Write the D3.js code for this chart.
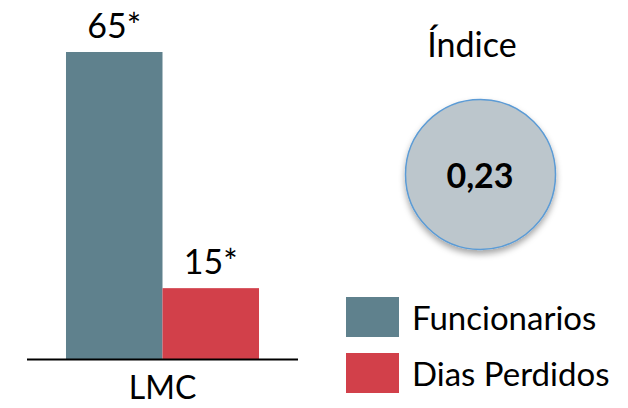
<!DOCTYPE html>
<html>
<head>
<meta charset="utf-8">
<script src="https://cdn.jsdelivr.net/npm/d3@7"></script>
<style>
  body { margin: 0; background: #fff; }
  svg text { font-family: Lato, "Open Sans", sans-serif; fill: #000; }
</style>
</head>
<body>
<div id="chart"></div>
<script>
  var categories = ["LMC"];
  var series = ["Funcionarios", "Dias Perdidos"];
  var values = [65, 15];
  var valueLabels = ["65*", "15*"];
  var indexTitle = "Índice";
  var indexValue = "0,23";

  var width = 628, height = 408;
  var colors = ["#5f818d", "#d2404a"];

  var svg = d3.select("#chart").append("svg")
    .attr("width", width)
    .attr("height", height);

  var defs = svg.append("defs");
  var f = defs.append("filter").attr("id", "shadow")
    .attr("x", "-20%").attr("y", "-20%").attr("width", "140%").attr("height", "150%");
  f.append("feDropShadow").attr("dx", 0).attr("dy", 4).attr("stdDeviation", 3)
    .attr("flood-color", "#000").attr("flood-opacity", 0.35);

  // bars
  var x0 = d3.scaleBand().domain(categories).range([27, 298]).paddingInner(0).paddingOuter(0.202);
  var x1 = d3.scaleBand().domain(series).range([0, x0.bandwidth()]);
  var y = d3.scaleLinear().domain([0, 65]).range([359, 52]);

  var g = svg.append("g");
  var cat = g.selectAll(".cat").data(categories).enter().append("g")
    .attr("transform", function(d) { return "translate(" + x0(d) + ",0)"; });

  cat.selectAll("rect").data(series).enter().append("rect")
    .attr("x", function(d) { return x1(d); })
    .attr("y", function(d, i) { return y(values[i]); })
    .attr("width", x1.bandwidth())
    .attr("height", function(d, i) { return y(0) - y(values[i]); })
    .attr("fill", function(d, i) { return colors[i]; });

  cat.selectAll(".lbl").data(series).enter().append("text")
    .attr("class", "lbl")
    .attr("x", function(d) { return x1(d) + x1.bandwidth() / 2; })
    .attr("y", function(d, i) { return y(values[i]) - 14; })
    .attr("text-anchor", "middle")
    .style("font-size", "34px")
    .text(function(d, i) { return valueLabels[i]; });

  // axis line + category label
  var xAxis = d3.axisBottom(x0).tickSize(0).tickPadding(17);
  var ax = svg.append("g").attr("transform", "translate(0," + y(0) + ")").call(xAxis);
  ax.select(".domain").attr("d", "M27,0.5H298").attr("stroke", "#000").attr("stroke-width", 2);
  ax.selectAll(".tick text").style("font-size", "32px").style("font-family", "Lato, sans-serif").attr("fill", "#000");

  // index circle
  svg.append("text")
    .attr("x", 472).attr("y", 57)
    .attr("text-anchor", "middle")
    .style("font-size", "34px")
    .text(indexTitle);

  svg.append("circle")
    .attr("cx", 480.5).attr("cy", 174.5).attr("r", 75)
    .attr("fill", "#bcc6cc")
    .attr("stroke", "#5b9bd5")
    .attr("stroke-width", 1.5)
    .attr("filter", "url(#shadow)");

  svg.append("text")
    .attr("x", 480).attr("y", 188)
    .attr("text-anchor", "middle")
    .style("font-size", "34px")
    .style("font-weight", "bold")
    .text(indexValue);

  // legend
  var legend = svg.selectAll(".leg").data(series).enter().append("g")
    .attr("transform", function(d, i) { return "translate(346," + (297 + i * 56) + ")"; });
  legend.append("rect")
    .attr("width", 53).attr("height", 40)
    .attr("fill", function(d, i) { return colors[i]; });
  legend.append("text")
    .attr("x", 66).attr("y", 33)
    .style("font-size", "33px")
    .text(function(d) { return d; });
</script>
</body>
</html>
